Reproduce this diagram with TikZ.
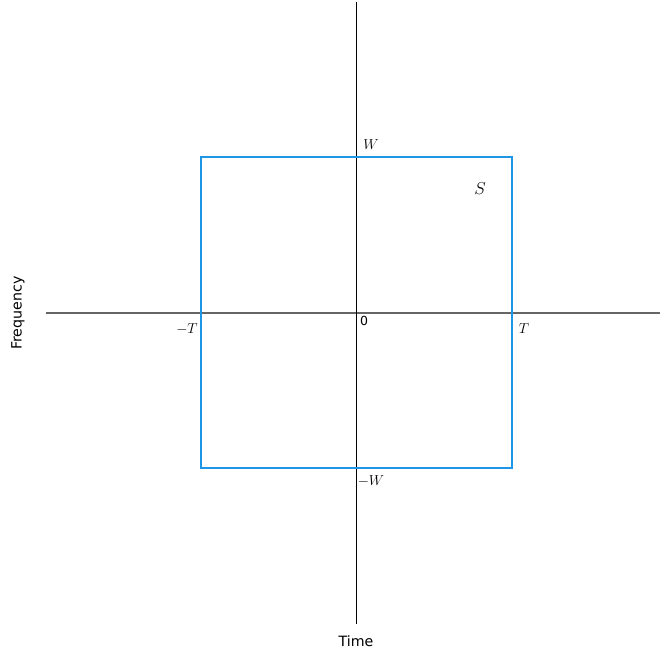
\documentclass[tikz,border=0pt]{standalone}
\usepackage{fontspec}
\setsansfont{DejaVu Sans}
\begin{document}
\begin{tikzpicture}[x=1pt,y=-1pt,
  lbl/.style={inner sep=0pt,font=\fontsize{13.5}{13.5}\selectfont},
  sflbl/.style={inner sep=0pt,font=\sffamily\fontsize{14.2}{15}\selectfont}]
\definecolor{boxblue}{HTML}{1E96E8}
\useasboundingbox (0,0) rectangle (660,653);
\coordinate (hl) at (46,313);
\coordinate (hr) at (660,313);
\coordinate (vt) at (356,2);
\coordinate (vb) at (356,624);
\draw[color=black!60, line width=1.2pt] (hl) -- (hr);
\draw[black, line width=1pt] (vt) -- (vb);
\draw[boxblue, line width=1.8pt] (201,157) rectangle (512,468);
\node[lbl] (w) at (371,145) {$W$};
\node[lbl] (mw) at (371,481) {$-W$};
\node[lbl] (mt) at (187,329) {$-T$};
\node[lbl] (t) at (524,329) {$T$};
\node[inner sep=0pt,font=\fontsize{17}{17}\selectfont] (s) at (480,189) {$S$};
\node[inner sep=0pt,font=\sffamily\fontsize{12.5}{12.5}\selectfont] (z) at (364,321) {0};
\node[sflbl,rotate=90] (f) at (18,313) {Frequency};
\node[sflbl] (time) at (356,641) {Time};
\end{tikzpicture}
\end{document}
